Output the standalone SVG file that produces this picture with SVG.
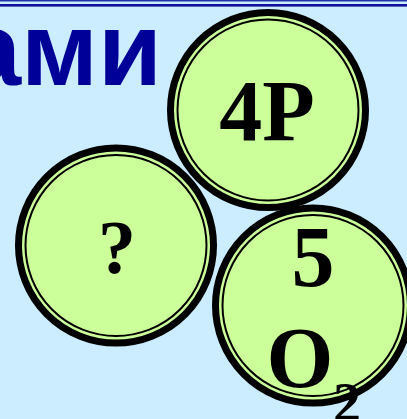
<svg xmlns="http://www.w3.org/2000/svg" width="407" height="419" viewBox="0 0 407 419">
<style>
.ring{fill:#CCFF99;stroke:#000;stroke-width:7}
.inner{fill:none;stroke:#000;stroke-width:2}
.lbl{font-family:"Liberation Serif","Times New Roman",serif;font-weight:bold;fill:#000}
</style>
<rect width="407" height="419" fill="#CCECFF"/>
<rect x="0" y="0" width="407" height="1.5" fill="#2233AA"/>
<rect x="0" y="4" width="407" height="2.6" fill="#10109A"/>
<text x="162" y="85" font-family="'Liberation Sans',Arial,sans-serif" font-weight="bold" font-size="104" fill="#000099" text-anchor="end">ами</text>
<g id="node-4P">
<circle class="ring" cx="268" cy="110" r="97.5"/>
<circle class="inner" cx="268" cy="110" r="90.5"/>
<text class="lbl" x="267" y="140" font-size="86" text-anchor="middle">4P</text>
</g>
<g id="node-q">
<circle class="ring" cx="116" cy="245.5" r="97.5"/>
<circle class="inner" cx="116" cy="245.5" r="90.5"/>
<text class="lbl" x="117" y="273" font-size="76" text-anchor="middle">?</text>
</g>
<g id="node-5O2">
<circle class="ring" cx="313" cy="305.5" r="97.5"/>
<circle class="inner" cx="313" cy="305.5" r="90.5"/>
<text class="lbl" x="313" y="286" font-size="86" text-anchor="middle">5</text>
<text class="lbl" x="300" y="387" font-size="86" text-anchor="middle">O</text>
<text class="lbl" x="333" y="422" font-size="56">2</text>
</g>
<g id="connectors"/>
</svg>
